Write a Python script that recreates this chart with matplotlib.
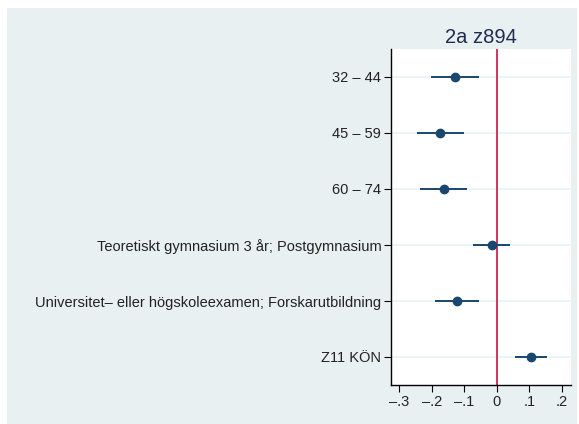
import matplotlib.pyplot as plt
from matplotlib.patches import Rectangle

labels = ['32 – 44', '45 – 59', '60 – 74',
          'Teoretiskt gymnasium 3 år; Postgymnasium',
          'Universitet– eller högskoleexamen; Forskarutbildning',
          'Z11 KÖN']
coef = [-0.128, -0.174, -0.163, -0.016, -0.122, 0.105]
ci_low = [-0.203, -0.246, -0.236, -0.074, -0.190, 0.055]
ci_high = [-0.054, -0.102, -0.090, 0.041, -0.054, 0.153]
xticks = [-0.3, -0.2, -0.1, 0, 0.1, 0.2]
xticklabels = ['–.3', '–.2', '–.1', '0', '.1', '.2']

navy = '#1a476f'
bg = '#e8f0f2'

plt.rcParams['font.family'] = ['Liberation Sans', 'DejaVu Sans']

fig = plt.figure(figsize=(5.79, 4.24), dpi=100, facecolor='white')
fig.patches.append(Rectangle((7 / 579, 0), 570 / 579, 416 / 424,
                             transform=fig.transFigure, facecolor=bg,
                             edgecolor='none', zorder=-1))
ax = fig.add_axes([391 / 579, 1 - 385 / 424, 180 / 579, 336 / 424])

ypos = list(range(1, len(labels) + 1))
for y in ypos:
    ax.axhline(y, color='#eaf2f3', lw=1.2, zorder=1)
ax.axvline(0, color='#d5345a', lw=1.4, zorder=2)
ax.hlines(ypos, ci_low, ci_high, color=navy, lw=1.4, zorder=3)
ax.plot(coef, ypos, 'o', color=navy, ms=6, zorder=4)

ax.set_xlim(-0.325, 0.228)
ax.set_ylim(6.5, 0.5)
ax.set_yticks(ypos)
ax.set_yticklabels(labels, fontsize=10.5, color='#222222')
ax.set_xticks(xticks)
ax.set_xticklabels(xticklabels, fontsize=10.5, color='#222222')
ax.tick_params(axis='both', length=5, width=0.8, direction='out', pad=2)
for s in ['top', 'right']:
    ax.spines[s].set_visible(False)
for s in ['left', 'bottom']:
    ax.spines[s].set_linewidth(1.0)
ax.set_title('2a z894', fontsize=14.5, color='#1f2d50', pad=4)

fig.savefig('out.png', dpi=100, facecolor=fig.get_facecolor())
